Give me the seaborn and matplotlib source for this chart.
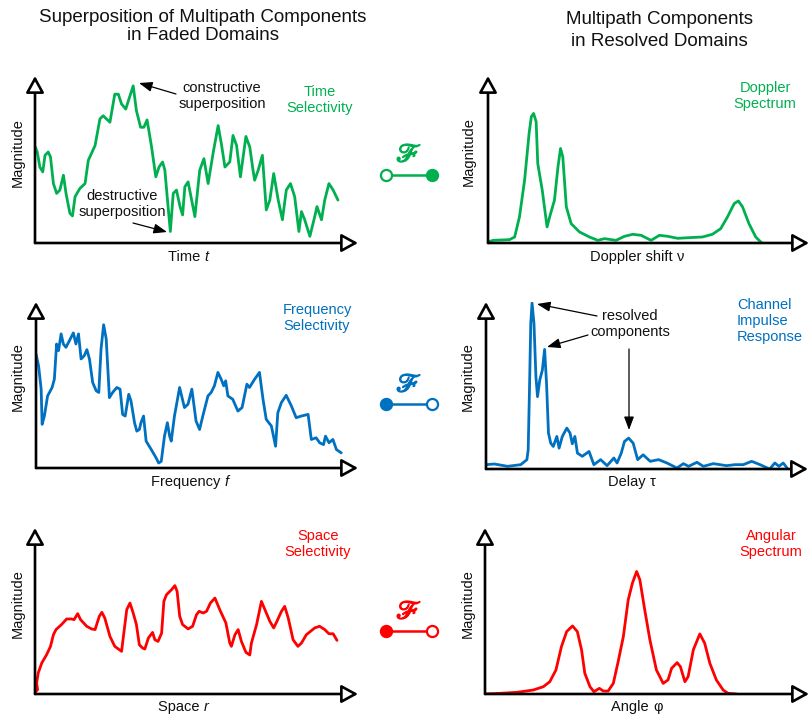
import numpy as np
import pandas as pd
import matplotlib
matplotlib.use('Agg')
import matplotlib.pyplot as plt
import matplotlib.patheffects as pe
import seaborn as sns

sns.set_theme(style='white')
plt.rcParams['font.family'] = ['Liberation Sans', 'DejaVu Sans']
plt.rcParams['mathtext.fontset'] = 'stix'

GREEN = '#00B050'
BLUE = '#0070C0'
RED = '#FF0000'

# ---------------- data (axis units: 0..100 along each arrow) ----------------
time_t = [0, 0.7, 1.5, 2.4, 3.1, 4.1, 4.8, 5.7, 6.7, 7.7, 8.8, 9.6, 10.8, 11.6, 12.4, 13.9, 15.5,
          16.5, 18.6, 20.1, 21.1, 23.2, 24.7, 25.8, 26.8, 28.1, 28.9, 30.4, 31.4, 32.7, 33.7, 34.7,
          36.1, 37.4, 38.4, 39.5, 40.2, 41.2, 41.9, 42.8, 43.8, 44.9, 45.7, 46.4, 47.4, 48.5, 49.5,
          51.0, 52.3, 53.6, 55.2, 56.7, 57.7, 58.8, 60.3, 61.3, 62.4, 63.6, 65.3, 66.5, 67.5, 68.0,
          69.1, 70.4, 71.6, 72.7, 73.9, 75.3, 76.6, 77.8, 79.1, 80.4, 81.7, 82.5, 83.5, 85.1, 86.6,
          87.3, 88.7, 89.7, 91.0, 92.3, 93.8]
time_mag = [57.8, 54.5, 45.5, 42.6, 52.5, 54.5, 51.5, 35.6, 29.7, 31.7, 40.6, 29.7, 17.8, 16.2, 27.7,
            32.7, 35.6, 49.5, 58.4, 74.3, 76.2, 72.3, 89.1, 89.1, 83.2, 80.2, 85.1, 94.1, 79.2, 69.3,
            69.3, 73.7, 57.4, 39.6, 45.5, 48.5, 43.6, 21.8, 6.9, 29.7, 31.7, 21.8, 16.8, 33.7, 36.6,
            25.7, 15.8, 43.6, 50.5, 35.6, 54.5, 70.3, 59.4, 45.5, 48.5, 64.4, 58.4, 39.6, 63.8, 57.4,
            43.6, 37.6, 43.6, 52.5, 19.8, 25.7, 41.6, 25.7, 13.9, 31.7, 35.6, 27.7, 6.9, 18.8, 13.9,
            4.0, 15.8, 21.8, 13.9, 25.7, 35.6, 31.7, 25.7]

doppler_nu = [0, 1.6, 6.7, 8.3, 9.8, 11.4, 12.8, 13.5, 14.2, 15.0, 15.5, 16.9, 18.4, 19.2, 20.7,
              21.8, 22.6, 23.3, 24.4, 25.9, 28.5, 31.6, 34.2, 36.3, 39.9, 42.5, 45.1, 47.7, 50.8,
              53.4, 56.0, 59.1, 62.7, 66.8, 69.9, 72.5, 74.6, 76.7, 78.0, 79.3, 81.3, 83.4, 85.3]
doppler_mag = [0.6, 1.6, 2.0, 3.6, 15.6, 37.6, 65.6, 75.6, 77.6, 72.6, 47.6, 31.6, 9.6, 15.6, 25.6,
               45.6, 56.6, 51.6, 21.6, 11.6, 6.6, 3.6, 1.6, 2.6, 1.6, 4.0, 5.2, 4.6, 1.6, 4.6, 4.0,
               2.8, 3.2, 3.6, 5.2, 8.6, 15.6, 23.6, 25.2, 21.6, 11.6, 3.6, 0.0]

freq_f = [0, 0.8, 1.6, 1.9, 2.6, 3.6, 5.0, 5.7, 6.4, 7.0, 7.8, 8.5, 9.3, 10.4, 11.6, 12.4, 13.2,
          14.0, 15.0, 15.8, 16.6, 17.6, 18.7, 19.5, 20.2, 21.0, 21.8, 22.8, 23.8, 25.1, 26.1, 26.9,
          27.7, 28.8, 29.5, 30.6, 31.3, 32.1, 32.6, 33.4, 34.2, 35.8, 37.3, 38.1, 38.9, 39.9, 40.8,
          41.5, 42.0, 43.0, 44.6, 46.1, 47.2, 48.4, 49.7, 50.8, 51.8, 53.4, 54.4, 55.4, 56.5, 57.5,
          58.3, 58.9, 59.6, 61.1, 62.7, 64.0, 65.5, 66.3, 67.9, 69.4, 70.5, 71.5, 73.1, 74.4, 75.1,
          76.2, 77.7, 79.3, 80.8, 82.4, 84.5, 85.5, 87.0, 88.1, 89.3, 89.9, 91.0, 92.2, 93.3, 94.8]
freq_mag = [68.7, 61.6, 47.5, 26.3, 31.3, 43.4, 48.5, 53.5, 74.7, 70.7, 80.8, 74.7, 72.7, 76.8,
            81.4, 74.7, 80.8, 65.7, 67.7, 71.3, 65.7, 51.5, 46.5, 45.5, 71.7, 86.3, 77.8, 42.4,
            45.5, 48.5, 47.5, 32.3, 31.3, 44.4, 40.4, 27.3, 22.2, 23.2, 27.3, 31.3, 16.2, 11.1, 6.1,
            3.0, 4.0, 19.2, 27.3, 19.2, 16.2, 31.3, 48.5, 36.4, 38.4, 47.5, 28.3, 23.2, 31.3, 43.4,
            45.5, 49.5, 57.6, 53.5, 49.5, 52.5, 43.4, 41.4, 34.3, 36.4, 50.5, 48.5, 53.5, 57.6, 41.4,
            29.3, 25.3, 13.1, 33.3, 39.4, 43.8, 37.4, 30.3, 31.3, 32.3, 17.2, 18.2, 15.2, 14.1, 19.2,
            15.2, 17.2, 11.1, 9.1]

delay_tau = [0, 2.6, 6.7, 10.8, 12.7, 13.1, 13.5, 13.9, 14.3, 14.9, 15.5, 16.0, 16.7, 17.5, 18.2,
             18.8, 19.4, 20.1, 20.9, 22.0, 22.7, 23.7, 25.1, 26.1, 26.8, 27.6, 28.4, 29.9, 32.0,
             33.5, 35.6, 37.6, 39.7, 40.7, 42.0, 43.0, 44.3, 45.7, 47.1, 48.8, 51.0, 53.6, 56.2,
             59.3, 61.3, 62.9, 65.5, 67.5, 70.6, 74.7, 77.3, 79.9, 82.5, 85.1, 88.1, 89.7, 91.0,
             92.3, 93.5]
delay_mag = [2.6, 3.0, 1.6, 2.6, 5.6, 11.5, 47.3, 87.1, 99.4, 87.1, 55.3, 43.3, 53.3, 59.2, 71.6,
             51.3, 21.5, 15.5, 13.5, 19.5, 12.5, 19.5, 24.5, 21.5, 15.1, 19.5, 9.5, 7.6, 10.5, 2.6,
             5.6, 2.0, 6.6, 3.6, 9.5, 16.5, 18.5, 15.5, 5.6, 8.5, 4.6, 5.6, 3.6, 0.6, 3.2, 1.6, 4.0,
             1.6, 3.2, 2.0, 2.6, 2.6, 4.6, 2.6, 0.0, 3.6, 1.6, 3.6, 0.6]

space_r = [0, 0.8, 0.5, 1.0, 2.1, 3.6, 4.8, 5.7, 6.5, 8.2, 9.8, 11.3, 12.1, 13.2, 14.1, 16.0, 17.5,
           18.6, 19.9, 20.7, 21.6, 23.2, 24.7, 26.8, 27.5, 28.4, 29.4, 30.4, 31.4, 32.3, 33.3, 34.0,
           35.1, 36.4, 37.1, 38.1, 39.2, 39.9, 40.7, 42.3, 43.3, 44.0, 44.8, 45.7, 47.4, 48.8, 50.0,
           50.8, 52.1, 53.1, 54.3, 55.7, 57.2, 59.1, 60.3, 60.8, 61.9, 62.9, 63.9, 65.3, 66.5, 67.0,
           68.6, 70.1, 71.4, 72.7, 73.9, 74.9, 76.3, 77.3, 78.4, 79.9, 81.4, 82.5, 84.0, 86.6, 88.1,
           89.7, 91.0, 92.3, 93.5]
space_mag = [1.0, 2.6, 6.6, 12.7, 18.7, 23.7, 28.7, 35.7, 38.8, 41.8, 45.2, 45.2, 44.8, 48.4, 44.8,
             40.8, 39.2, 38.8, 46.8, 49.2, 45.8, 34.7, 28.7, 25.7, 36.7, 50.8, 54.8, 48.8, 41.8,
             29.7, 27.7, 27.1, 33.7, 37.1, 32.7, 31.7, 36.7, 55.8, 59.8, 62.9, 65.3, 61.8, 46.8,
             41.8, 39.2, 40.8, 47.8, 49.8, 48.8, 49.8, 54.8, 57.8, 50.8, 42.8, 30.7, 28.7, 35.7,
             38.8, 31.7, 25.1, 23.5, 30.7, 41.8, 55.8, 49.8, 43.8, 39.8, 43.8, 49.8, 52.8, 45.8,
             32.7, 28.7, 30.7, 35.7, 39.8, 40.8, 38.8, 36.3, 36.3, 32.3]

angle_phi = [0, 4.6, 9.8, 14.9, 18.0, 20.0, 21.9, 23.6, 25.2, 27.0, 28.5, 29.8, 30.8, 32.4, 33.6,
             35.3, 36.5, 38.0, 39.6, 41.1, 42.7, 44.2, 45.5, 46.8, 47.8, 49.3, 50.9, 52.9, 55.0,
             56.5, 57.6, 59.3, 60.3, 61.7, 62.7, 64.3, 66.3, 67.8, 69.4, 71.4, 73.5, 75.0, 77.6]
angle_mag = [0.0, 0.4, 1.0, 2.4, 4.4, 7.4, 14.5, 28.6, 37.6, 41.0, 37.6, 26.6, 12.5, 4.4, 1.4, 3.4,
             1.8, 1.8, 6.4, 19.5, 34.6, 56.7, 66.8, 73.8, 68.8, 50.7, 32.6, 14.5, 6.4, 8.5, 15.5,
             18.9, 16.5, 7.4, 10.5, 26.6, 36.2, 30.6, 18.5, 8.5, 2.4, 0.4, 0.0]

W, H = 811, 715
fig = plt.figure(figsize=(W / 100, H / 100), dpi=100)

def px_axes(x0, x1, yb, yt, zorder=1):
    return fig.add_axes([x0 / W, 1 - yb / H, (x1 - x0) / W, (yb - yt) / H], zorder=zorder)

panels = [
    # (x0, x1, yb, yt, x, y, color)
    (35, 358, 243, 76, time_t, time_mag, GREEN),
    (488, 809, 243, 76, doppler_nu, doppler_mag, GREEN),
    (36, 358, 468, 302, freq_f, freq_mag, BLUE),
    (486, 808, 469, 302, delay_tau, delay_mag, BLUE),
    (35, 358, 694, 528, space_r, space_mag, RED),
    (485, 809, 694, 528, angle_phi, angle_mag, RED),
]

for (x0, x1, yb, yt, xs, ys, col) in panels:
    ax = px_axes(x0, x1, yb, yt)
    df = pd.DataFrame({'x': xs, 'y': ys})
    sns.lineplot(data=df, x='x', y='y', ax=ax, color=col, lw=2.0, sort=False,
                 estimator=None, legend=False)
    for l in ax.lines:
        l.set_solid_joinstyle('round')
        l.set_solid_capstyle('round')
    ax.set_xlim(0, 100)
    ax.set_ylim(0, 100)
    ax.axis('off')
    for tip in [(100, 0), (0, 100)]:
        ax.annotate('', xy=tip, xytext=(0, 0),
                    arrowprops=dict(arrowstyle='-|>,head_length=1.0,head_width=0.55',
                                    mutation_scale=10, fc='white', ec='black', lw=1.9,
                                    shrinkA=0, shrinkB=0),
                    annotation_clip=False)

# overlay in pixel coordinates for text and decorations
ov = fig.add_axes([0, 0, 1, 1], zorder=5)
ov.set_xlim(0, W)
ov.set_ylim(H, 0)
ov.axis('off')
ov.patch.set_visible(False)

tfs = 13.5
ov.text(203, 17, 'Superposition of Multipath Components', ha='center', va='center', fontsize=tfs, color='#111111')
ov.text(203, 36, 'in Faded Domains', ha='center', va='center', fontsize=tfs, color='#111111')
ov.text(659, 20, 'Multipath Components', ha='center', va='center', fontsize=tfs, color='#111111')
ov.text(659, 42, 'in Resolved Domains', ha='center', va='center', fontsize=tfs, color='#111111')

fs = 10.5
# y labels
for (x, y) in [(18, 153), (469, 152), (18, 377), (468, 377), (18, 604), (468, 604)]:
    ov.text(x, y, 'Magnitude', rotation=90, ha='center', va='center', fontsize=fs, color='#111111')

def mixed_label(xc, y, main, var, italic):
    # main text and variable adjacent, centered as a group
    r = fig.canvas.get_renderer()
    t1 = ov.text(0, y, main + ' ', ha='left', va='center', fontsize=fs, color='#111111')
    t2 = ov.text(0, y, var, ha='left', va='center', fontsize=fs, color='#111111',
                 style='italic' if italic else 'normal')
    w1 = t1.get_window_extent(r).width
    w2 = t2.get_window_extent(r).width
    start = xc - (w1 + w2) / 2
    t1.set_x(start)
    t2.set_x(start + w1)

mixed_label(188, 257, 'Time', 't', True)
mixed_label(190, 482, 'Frequency', 'f', True)
mixed_label(183, 707, 'Space', 'r', True)
mixed_label(637, 257, 'Doppler shift', '\u03bd', False)
mixed_label(632, 482, 'Delay', '\u03c4', False)
mixed_label(637, 707, 'Angle', '\u03c6', False)

# colored domain labels
ov.text(320, 100, 'Time\nSelectivity', ha='center', va='center', fontsize=fs, color=GREEN, linespacing=1.2)
ov.text(765, 96, 'Doppler\nSpectrum', ha='center', va='center', fontsize=fs, color=GREEN, linespacing=1.2)
ov.text(317, 318, 'Frequency\nSelectivity', ha='center', va='center', fontsize=fs, color=BLUE, linespacing=1.2)
ov.text(737, 321, 'Channel\nImpulse\nResponse', ha='left', va='center', fontsize=fs, color=BLUE, linespacing=1.2)
ov.text(318, 544, 'Space\nSelectivity', ha='center', va='center', fontsize=fs, color=RED, linespacing=1.2)
ov.text(771, 544, 'Angular\nSpectrum', ha='center', va='center', fontsize=fs, color=RED, linespacing=1.2)

# annotations
ann = dict(arrowstyle='-|>,head_length=0.8,head_width=0.3', mutation_scale=10,
           fc='black', ec='black', lw=0.9, shrinkA=0, shrinkB=0)
ov.text(222, 96, 'constructive\nsuperposition', ha='center', va='center', fontsize=fs, color='#111111', linespacing=1.2)
ov.annotate('', xy=(139, 83), xytext=(176, 94), arrowprops=ann)
ov.text(122, 204, 'destructive\nsuperposition', ha='center', va='center', fontsize=fs, color='#111111', linespacing=1.2)
ov.annotate('', xy=(167, 232), xytext=(133, 223), arrowprops=ann)
ov.text(630, 324, 'resolved\ncomponents', ha='center', va='center', fontsize=fs, color='#111111', linespacing=1.2)
ov.annotate('', xy=(537, 304), xytext=(597, 316), arrowprops=ann)
ov.annotate('', xy=(547, 347), xytext=(588, 335), arrowprops=ann)
ov.annotate('', xy=(629, 430), xytext=(629, 349), arrowprops=ann)

# Fourier transform connectors
for (yF, yL, col, filled_right) in [(155, 175, GREEN, True), (385, 404, BLUE, False), (612, 631, RED, False)]:
    ov.text(409, yF, r'$\mathscr{F}$', ha='center', va='center', fontsize=19, color=col,
            path_effects=[pe.withStroke(linewidth=1.0, foreground=col)])
    ov.plot([386, 432], [yL, yL], color=col, lw=1.8, solid_capstyle='butt')
    left_face = 'white' if filled_right else col
    right_face = col if filled_right else 'white'
    ov.plot([386], [yL], marker='o', ms=8, mfc=left_face, mec=col, mew=1.6)
    ov.plot([432], [yL], marker='o', ms=8, mfc=right_face, mec=col, mew=1.6)

fig.savefig('out.png', dpi=100)
